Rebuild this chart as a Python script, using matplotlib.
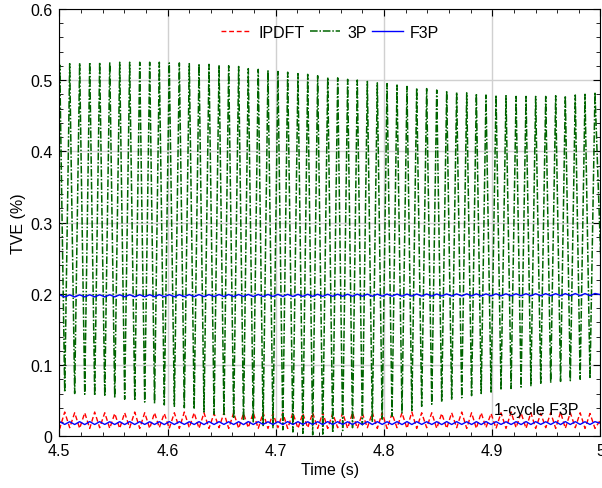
import matplotlib
matplotlib.use('Agg')
from matplotlib import pyplot as plt
from matplotlib.ticker import MultipleLocator, FuncFormatter

plt.rcParams['font.family'] = ['Liberation Sans', 'DejaVu Sans']

# times of the ripple crests and valleys (s)
t_peak = [4.5004, 4.5096, 4.5188, 4.5281, 4.5373, 4.5466, 4.5558, 4.5650, 4.5743, 4.5835,
          4.5924, 4.6016, 4.6109, 4.6201, 4.6291, 4.6383, 4.6476, 4.6565, 4.6657, 4.6746,
          4.6838, 4.6928, 4.7020, 4.7110, 4.7205, 4.7295, 4.7387, 4.7480, 4.7572, 4.7664,
          4.7753, 4.7846, 4.7938, 4.8028, 4.8120, 4.8212, 4.8302, 4.8394, 4.8487, 4.8579,
          4.8671, 4.8764, 4.8853, 4.8942, 4.9035, 4.9127, 4.9220, 4.9312, 4.9401, 4.9494,
          4.9586, 4.9675, 4.9767, 4.9857, 4.9949]
t_trough = [4.4958, 4.5050, 4.5142, 4.5235, 4.5327, 4.5420, 4.5512, 4.5604, 4.5697, 4.5789,
            4.5880, 4.5970, 4.6063, 4.6155, 4.6246, 4.6337, 4.6430, 4.6521, 4.6611, 4.6702,
            4.6792, 4.6883, 4.6974, 4.7065, 4.7158, 4.7250, 4.7341, 4.7434, 4.7526, 4.7618,
            4.7709, 4.7800, 4.7892, 4.7983, 4.8074, 4.8166, 4.8257, 4.8348, 4.8441, 4.8533,
            4.8625, 4.8718, 4.8809, 4.8898, 4.8989, 4.9081, 4.9174, 4.9266, 4.9357, 4.9448,
            4.9540, 4.9631, 4.9721, 4.9812, 4.9903, 5.0041]

# 3P: TVE (%) at crests / valleys
p3_peak = [0.521, 0.523, 0.524, 0.525, 0.525, 0.525, 0.525, 0.525, 0.525, 0.525,
           0.525, 0.524, 0.524, 0.523, 0.523, 0.522, 0.521, 0.520, 0.519, 0.516,
           0.515, 0.514, 0.512, 0.511, 0.509, 0.508, 0.506, 0.504, 0.503, 0.501,
           0.500, 0.498, 0.496, 0.495, 0.493, 0.491, 0.489, 0.488, 0.486, 0.485,
           0.483, 0.482, 0.481, 0.479, 0.479, 0.478, 0.477, 0.477, 0.477, 0.477,
           0.478, 0.478, 0.479, 0.480, 0.483]
p3_trough = [0.063, 0.062, 0.060, 0.059, 0.057, 0.056, 0.054, 0.052, 0.050, 0.048,
             0.046, 0.044, 0.042, 0.040, 0.038, 0.034, 0.031, 0.029, 0.025, 0.022,
             0.019, 0.015, 0.012, 0.009, 0.006, 0.004, 0.002, 0.003, 0.005, 0.008,
             0.012, 0.016, 0.020, 0.024, 0.028, 0.032, 0.036, 0.042, 0.045, 0.048,
             0.051, 0.054, 0.057, 0.060, 0.062, 0.065, 0.067, 0.069, 0.071, 0.073,
             0.075, 0.077, 0.078, 0.080, 0.081, 0.083]

# IPDFT: high values at t_trough, low values at t_peak
ipdft_hi = [0.033, 0.034, 0.033, 0.033, 0.034, 0.033, 0.032, 0.033, 0.034, 0.033,
            0.033, 0.032, 0.033, 0.034, 0.033, 0.033, 0.032, 0.033, 0.033, 0.032,
            0.033, 0.033, 0.032, 0.033, 0.033, 0.032, 0.033, 0.033, 0.032, 0.033,
            0.033, 0.032, 0.033, 0.033, 0.032, 0.033, 0.034, 0.033, 0.033, 0.032,
            0.033, 0.034, 0.033, 0.033, 0.032, 0.033, 0.034, 0.033, 0.033, 0.032,
            0.033, 0.034, 0.033, 0.033, 0.032, 0.033]
ipdft_lo = [0.011, 0.012, 0.011, 0.011, 0.012, 0.011, 0.011, 0.012, 0.011, 0.011,
            0.012, 0.011, 0.011, 0.012, 0.011, 0.011, 0.012, 0.011, 0.011, 0.012,
            0.011, 0.011, 0.012, 0.011, 0.011, 0.012, 0.011, 0.011, 0.012, 0.011,
            0.011, 0.012, 0.011, 0.011, 0.012, 0.011, 0.011, 0.012, 0.011, 0.011,
            0.012, 0.011, 0.011, 0.012, 0.011, 0.011, 0.012, 0.011, 0.011, 0.012,
            0.011, 0.011, 0.012, 0.011, 0.011]

# F3P (3-cycle window, around 0.2 %): high at t_peak, low at t_trough
f3p_hi = [0.1985, 0.1985, 0.1985, 0.1986, 0.1986, 0.1986, 0.1986, 0.1987, 0.1987, 0.1987,
          0.1988, 0.1988, 0.1988, 0.1989, 0.1989, 0.1989, 0.1990, 0.1990, 0.1990, 0.1991,
          0.1991, 0.1991, 0.1992, 0.1992, 0.1992, 0.1993, 0.1993, 0.1993, 0.1994, 0.1994,
          0.1995, 0.1995, 0.1995, 0.1996, 0.1996, 0.1996, 0.1997, 0.1997, 0.1997, 0.1998,
          0.1998, 0.1999, 0.1999, 0.1999, 0.2000, 0.2000, 0.2000, 0.2001, 0.2001, 0.2002,
          0.2002, 0.2002, 0.2003, 0.2003, 0.2004]
f3p_lo = [0.1955, 0.1955, 0.1955, 0.1956, 0.1956, 0.1956, 0.1956, 0.1957, 0.1957, 0.1957,
          0.1958, 0.1958, 0.1958, 0.1959, 0.1959, 0.1959, 0.1960, 0.1960, 0.1960, 0.1961,
          0.1961, 0.1961, 0.1962, 0.1962, 0.1962, 0.1963, 0.1963, 0.1963, 0.1964, 0.1964,
          0.1965, 0.1965, 0.1965, 0.1966, 0.1966, 0.1966, 0.1967, 0.1967, 0.1967, 0.1968,
          0.1968, 0.1969, 0.1969, 0.1969, 0.1970, 0.1970, 0.1970, 0.1971, 0.1971, 0.1972,
          0.1972, 0.1972, 0.1973, 0.1973, 0.1974, 0.1974]

# 1-cycle F3P (around 0.02 %)
f3p1_hi = [0.0205, 0.0204, 0.0205, 0.0206, 0.0205, 0.0204, 0.0205, 0.0206, 0.0205, 0.0204,
           0.0205, 0.0206, 0.0205, 0.0204, 0.0205, 0.0206, 0.0205, 0.0204, 0.0205, 0.0206,
           0.0205, 0.0204, 0.0205, 0.0206, 0.0205, 0.0204, 0.0205, 0.0206, 0.0205, 0.0204,
           0.0205, 0.0206, 0.0205, 0.0204, 0.0205, 0.0206, 0.0205, 0.0204, 0.0205, 0.0206,
           0.0205, 0.0204, 0.0205, 0.0206, 0.0205, 0.0204, 0.0205, 0.0206, 0.0205, 0.0204,
           0.0205, 0.0206, 0.0205, 0.0204, 0.0205]
f3p1_lo = [0.0165, 0.0166, 0.0165, 0.0164, 0.0165, 0.0166, 0.0165, 0.0164, 0.0165, 0.0166,
           0.0165, 0.0164, 0.0165, 0.0166, 0.0165, 0.0164, 0.0165, 0.0166, 0.0165, 0.0164,
           0.0165, 0.0166, 0.0165, 0.0164, 0.0165, 0.0166, 0.0165, 0.0164, 0.0165, 0.0166,
           0.0165, 0.0164, 0.0165, 0.0166, 0.0165, 0.0164, 0.0165, 0.0166, 0.0165, 0.0164,
           0.0165, 0.0166, 0.0165, 0.0164, 0.0165, 0.0166, 0.0165, 0.0164, 0.0165, 0.0166,
           0.0165, 0.0164, 0.0165, 0.0166, 0.0165, 0.0164]


def zigzag(ta, va, tb, vb):
    # ta/va has one point more than tb/vb; alternate them
    t, v = [], []
    for i in range(len(tb)):
        t += [ta[i], tb[i]]
        v += [va[i], vb[i]]
    t.append(ta[-1])
    v.append(va[-1])
    return t, v


fig = plt.figure(figsize=(6.02, 4.89), dpi=100)
ax = fig.add_axes([0.0985, 0.1058, 0.899, 0.8742])

t, v = zigzag(t_trough, ipdft_hi, t_peak, ipdft_lo)
h_ip, = ax.plot(t, v, color='red', linestyle=(0, (3.5, 2)), linewidth=1.0)
t, v = zigzag(t_trough, p3_trough, t_peak, p3_peak)
h_3p, = ax.plot(t, v, color='#006400', linestyle=(0, (5, 1.2, 1, 1.2)), linewidth=1.1)
t, v = zigzag(t_trough, f3p_lo, t_peak, f3p_hi)
h_f3p, = ax.plot(t, v, color='blue', linewidth=1.0)
t, v = zigzag(t_trough, f3p1_lo, t_peak, f3p1_hi)
ax.plot(t, v, color='blue', linewidth=1.0)

ax.set_xlim(4.5, 5.0)
ax.set_ylim(0, 0.6)
ax.xaxis.set_major_locator(MultipleLocator(0.1))
ax.xaxis.set_minor_locator(MultipleLocator(0.02))
ax.yaxis.set_major_locator(MultipleLocator(0.1))
ax.yaxis.set_minor_locator(MultipleLocator(0.02))
fmt = FuncFormatter(lambda x, pos: '%g' % round(x, 3))
ax.xaxis.set_major_formatter(fmt)
ax.yaxis.set_major_formatter(fmt)
ax.tick_params(which='both', direction='in', top=True, right=True, labelsize=11.5)
ax.tick_params(which='major', length=5, pad=5)
ax.tick_params(which='minor', length=3)
ax.grid(True, which='major', color='#d0d0d0', linewidth=1)
ax.set_axisbelow(True)

ax.set_xlabel('Time (s)', fontsize=11.5, labelpad=3)
ax.set_ylabel('TVE (%)', fontsize=11.5, labelpad=3)

ax.text(4.902, 0.0375, '1-cycle F3P', fontsize=11.5, va='center', ha='left')

ax.legend([h_ip, h_3p, h_f3p], ['IPDFT', '3P', 'F3P'], loc='center',
          bbox_to_anchor=(0.5, 0.9456), ncol=3, frameon=False, fontsize=11.5,
          handlelength=1.9, handletextpad=0.45, columnspacing=0.35)

fig.savefig('out.png', dpi=100)
